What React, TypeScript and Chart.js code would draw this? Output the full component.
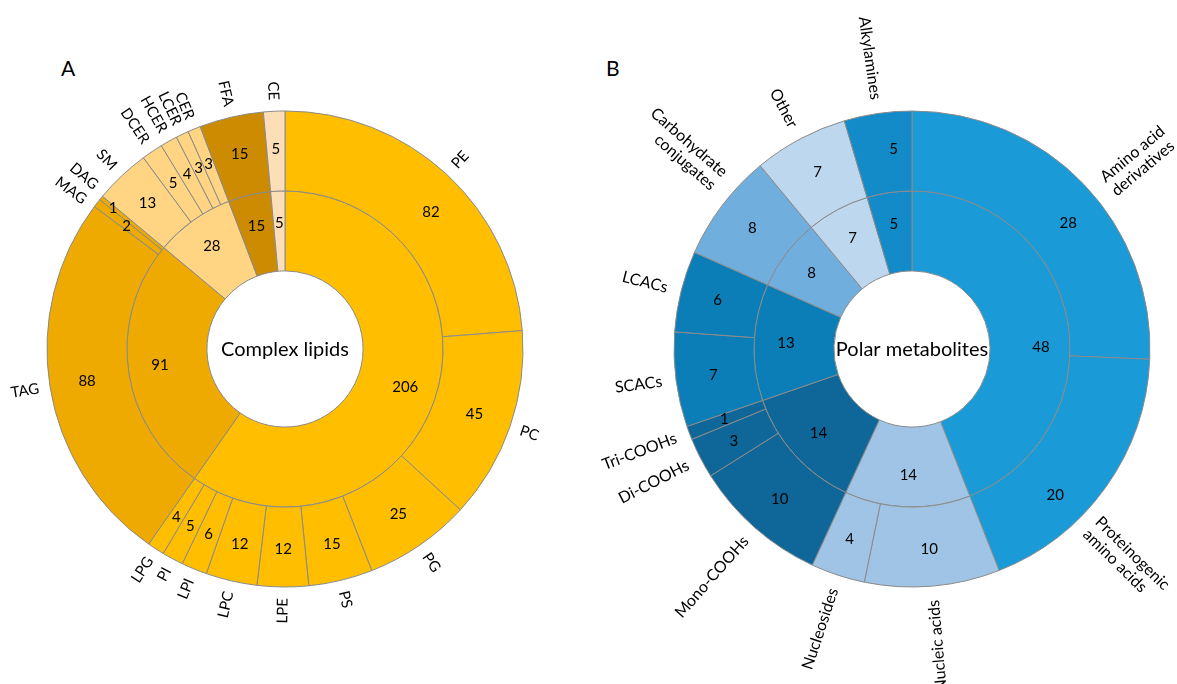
import { useEffect, useRef } from 'react';
import { Chart, registerables } from 'chart.js';

Chart.register(...registerables);

// panel A - complex lipids
const lipidClasses = ['Phospholipids', 'Glycerolipids', 'Sphingolipids', 'FFA', 'CE'];
const lipidClassCounts = [206, 91, 28, 15, 5];
const lipidSubclasses = ['PE', 'PC', 'PG', 'PS', 'LPE', 'LPC', 'LPI', 'PI', 'LPG', 'TAG', 'MAG', 'DAG', 'SM', 'DCER', 'HCER', 'LCER', 'CER', 'FFA', 'CE'];
const lipidSubclassCounts = [82, 45, 25, 15, 12, 12, 6, 5, 4, 88, 2, 1, 13, 5, 4, 3, 3, 15, 5];
const lipidSubclassClass = [0, 0, 0, 0, 0, 0, 0, 0, 0, 1, 1, 1, 2, 2, 2, 2, 2, 3, 4];

// panel B - polar metabolites
const polarClasses = ['Amino acids', 'Nucleotides', 'Carboxylic acids', 'Acylcarnitines', 'Carbohydrate conjugates', 'Other', 'Alkylamines'];
const polarClassCounts = [48, 14, 14, 13, 8, 7, 5];
const polarSubclasses = [['Amino acid', 'derivatives'], ['Proteinogenic', 'amino acids'], 'Nucleic acids', 'Nucleosides', 'Mono-COOHs', 'Di-COOHs', 'Tri-COOHs', 'SCACs', 'LCACs', ['Carbohydrate', 'conjugates'], 'Other', 'Alkylamines'];
const polarSubclassCounts = [28, 20, 10, 4, 10, 3, 1, 7, 6, 8, 7, 5];
const polarSubclassClass = [0, 0, 1, 1, 2, 2, 2, 3, 3, 4, 5, 6];

const lipidColors = ['#FFBF00', '#EEAA00', '#FFD583', '#CC8B00', '#FDDEB6'];
const polarColors = ['#1A9AD6', '#9FC4E6', '#0E6798', '#0B7EB7', '#70AEDD', '#BDD7EE', '#138BC9'];

const FONT = 'Lato, "Open Sans", sans-serif';

// [degrees, px] shifts, the way the original placed a few labels
type Nudge = Record<string, [number, number]>;

type SunProps = {
  classes: string[];
  classCounts: number[];
  subclasses: (string | string[])[];
  subclassCounts: number[];
  subclassClass: number[];
  colors: string[];
  center: string;
  labelR: number;
  labelSize: number;
  padLeft: number;
  valueNudge?: Nudge;
  labelNudge?: Nudge;
  style: React.CSSProperties;
};

const rad = (d: number) => (d * Math.PI) / 180;

function Sunburst(p: SunProps) {
  const ref = useRef<HTMLCanvasElement>(null);
  const chart = useRef<Chart | null>(null);

  useEffect(() => {
    if (!ref.current) return;
    chart.current?.destroy();

    const labelPlugin = {
      id: 'sunLabels',
      afterDatasetsDraw(c: any) {
        const ctx = c.ctx;
        ctx.save();
        ctx.fillStyle = '#000';
        ctx.textAlign = 'center';
        ctx.textBaseline = 'middle';
        ctx.font = `15px ${FONT}`;
        c.data.datasets.forEach((ds: any, di: number) => {
          c.getDatasetMeta(di).data.forEach((arc: any, i: number) => {
            const { x, y, startAngle, endAngle, innerRadius, outerRadius } = arc.getProps(['x', 'y', 'startAngle', 'endAngle', 'innerRadius', 'outerRadius'], true);
            const [dA, dR] = p.valueNudge?.[`${di}:${i}`] ?? [0, 0];
            const mid = (startAngle + endAngle) / 2 + rad(dA);
            const r = innerRadius + (outerRadius - innerRadius) * (di === 0 ? 0.53 : 0.6) + dR;
            ctx.fillText(String(ds.data[i]), x + Math.cos(mid) * r, y + Math.sin(mid) * r);
          });
        });

        // category names round the outer ring, set along the radius
        ctx.font = `${p.labelSize}px ${FONT}`;
        const lh = p.labelSize * 1.1;
        c.getDatasetMeta(0).data.forEach((arc: any, i: number) => {
          const { x, y, startAngle, endAngle, outerRadius } = arc.getProps(['x', 'y', 'startAngle', 'endAngle', 'outerRadius'], true);
          const [dA, dR] = p.labelNudge?.[String(i)] ?? [0, 0];
          const mid = (startAngle + endAngle) / 2 + rad(dA);
          let deg = ((mid + Math.PI / 2) * 180) / Math.PI;
          deg = ((deg % 360) + 360) % 360;
          const flip = deg > 170;
          const lab = p.subclasses[i];
          const lines = Array.isArray(lab) ? lab : [lab];
          const r0 = outerRadius + p.labelR + dR;
          ctx.save();
          ctx.translate(x + Math.cos(mid) * r0, y + Math.sin(mid) * r0);
          ctx.rotate(flip ? mid + Math.PI : mid);
          ctx.textAlign = flip ? 'right' : 'left';
          lines.forEach((ln, k) => ctx.fillText(ln, 0, (k - (lines.length - 1) / 2) * lh));
          ctx.restore();
        });

        const a0 = c.getDatasetMeta(0).data[0];
        ctx.textAlign = 'center';
        ctx.font = `20px ${FONT}`;
        ctx.fillText(p.center, a0.x, a0.y + 1);
        ctx.restore();
      },
    };

    chart.current = new Chart(ref.current, {
      type: 'doughnut',
      data: {
        labels: p.subclasses as any,
        datasets: [
          {
            data: p.subclassCounts,
            backgroundColor: p.subclassClass.map(k => p.colors[k]),
            borderColor: '#8A8A8A', borderWidth: 1, hoverOffset: 0,
          },
          {
            data: p.classCounts,
            backgroundColor: p.colors,
            borderColor: '#8A8A8A', borderWidth: 1, hoverOffset: 0,
          },
        ],
      },
      options: {
        responsive: false, animation: false, events: [],
        radius: 238, cutout: '32.8%',
        layout: { padding: { top: 14, left: p.padLeft } },
        plugins: { legend: { display: false }, tooltip: { enabled: false } },
      } as any,
      plugins: [labelPlugin],
    });

    return () => { chart.current?.destroy(); };
  }, []);

  return <canvas ref={ref} width={p.style.width as number} height={684} style={p.style} />;
}

export default function App() {
  return (
    <div style={{ position: 'fixed', left: 0, top: 0, width: 1177, height: 684, background: '#fff', fontFamily: FONT }}>
      <div style={{ position: 'absolute', left: 61, top: 57, fontSize: 21, lineHeight: 1 }}>A</div>
      <div style={{ position: 'absolute', left: 606, top: 57, fontSize: 21, lineHeight: 1 }}>B</div>
      <Sunburst
        classes={lipidClasses} classCounts={lipidClassCounts}
        subclasses={lipidSubclasses} subclassCounts={lipidSubclassCounts} subclassClass={lipidSubclassClass}
        colors={lipidColors} center="Complex lipids" labelR={11} labelSize={15} padLeft={0}
        valueNudge={{ '0:0': [4, 0], '0:11': [0, 22] }}
        labelNudge={{ 10: [-1.3, 0], 11: [1.3, 0] }}
        style={{ position: 'absolute', left: 0, top: 0, width: 570, height: 684 }}
      />
      <Sunburst
        classes={polarClasses} classCounts={polarClassCounts}
        subclasses={polarSubclasses} subclassCounts={polarSubclassCounts} subclassClass={polarSubclassClass}
        colors={polarColors} center="Polar metabolites" labelR={14} labelSize={16} padLeft={57}
        valueNudge={{ '0:0': [5, 0], '0:1': [10, 4], '1:0': [10, 3], '0:11': [3, 0] }}
        labelNudge={{ 0: [4, 3], 1: [9, 0], 9: [4, 4] }}
        style={{ position: 'absolute', left: 590, top: 0, width: 587, height: 684 }}
      />
    </div>
  );
}
